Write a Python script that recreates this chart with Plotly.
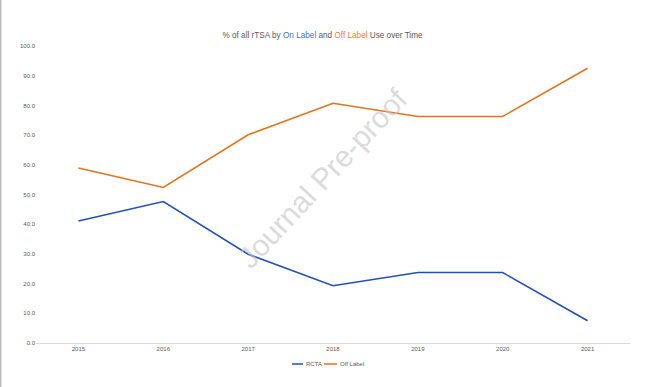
import plotly.graph_objects as go

years = ["2015", "2016", "2017", "2018", "2019", "2020", "2021"]
rcta = [41.1, 47.6, 29.9, 19.3, 23.7, 23.7, 7.5]
off_label = [58.9, 52.4, 70.1, 80.7, 76.3, 76.3, 92.5]
y_ticks = [0, 10, 20, 30, 40, 50, 60, 70, 80, 90, 100]
series_names = ["RCTA", "Off Label"]

BLUE = "#1F4EBD"
ORANGE = "#E8711A"
FONT = "Liberation Sans, Arial, sans-serif"

fig = go.Figure()
fig.add_trace(go.Scatter(x=years, y=rcta, mode="lines", name=series_names[0],
                         line=dict(color=BLUE, width=1.5), showlegend=False))
fig.add_trace(go.Scatter(x=years, y=off_label, mode="lines", name=series_names[1],
                         line=dict(color=ORANGE, width=1.5), showlegend=False))

W, H = 645, 387
ml, mr, mt, mb = 36, 15, 46, 44
pw, ph = W - ml - mr, H - mt - mb


def px(x):
    return (x - ml) / pw


def py(y):
    return 1 - (y - mt) / ph


fig.update_layout(
    width=W, height=H,
    margin=dict(l=ml, r=mr, t=mt, b=mb),
    paper_bgcolor="white", plot_bgcolor="white",
    font=dict(family=FONT, color="#595959"),
    title=dict(
        text="% of all rTSA by <span style='color:#4472C4'>On Label</span> and "
             "<span style='color:#ED7D31'>Off Label</span> Use over Time",
        x=0.5, xanchor="center", y=1 - 35 / H, yanchor="middle",
        font=dict(size=8.2, color="#595959"),
    ),
    xaxis=dict(type="category", range=[-0.5, 6.5], showgrid=False,
               showline=True, linecolor="#D9D9D9", linewidth=1,
               ticks="", tickfont=dict(size=6, color="#595959"), zeroline=False),
    yaxis=dict(range=[0, 100], tickvals=y_ticks,
               ticktext=[f"{v:.1f}" for v in y_ticks],
               showgrid=False, zeroline=False, showline=False, ticks="",
               tickfont=dict(size=6, color="#595959")),
    showlegend=False,
)

# custom compact legend
legend_items = [(292, 303, 304, BLUE, series_names[0]),
                (324, 337, 338, ORANGE, series_names[1])]
for x0, x1, xt, col, name in legend_items:
    fig.add_shape(type="line", xref="paper", yref="paper",
                  x0=px(x0), x1=px(x1), y0=py(364), y1=py(364),
                  line=dict(color=col, width=1.5))
    fig.add_annotation(text=name, xref="paper", yref="paper", x=px(xt), y=py(364),
                       xanchor="left", yanchor="middle", showarrow=False,
                       font=dict(size=6, color="#595959", family=FONT))

# watermark
fig.add_annotation(text="Journal Pre-proof", xref="paper", yref="paper",
                   x=px(322), y=py(178), showarrow=False,
                   textangle=-47, font=dict(size=30, color="rgba(195,195,195,0.6)",
                                            family=FONT))

# left border line of the page
fig.add_shape(type="line", xref="paper", yref="paper",
              x0=px(0.7), x1=px(0.7), y0=py(H), y1=py(0),
              line=dict(color="#B8B8B8", width=1.4))

fig.write_html("out.html", config={"displayModeBar": False},
               post_script="document.body.style.margin='0px';document.body.style.overflow='hidden';")
